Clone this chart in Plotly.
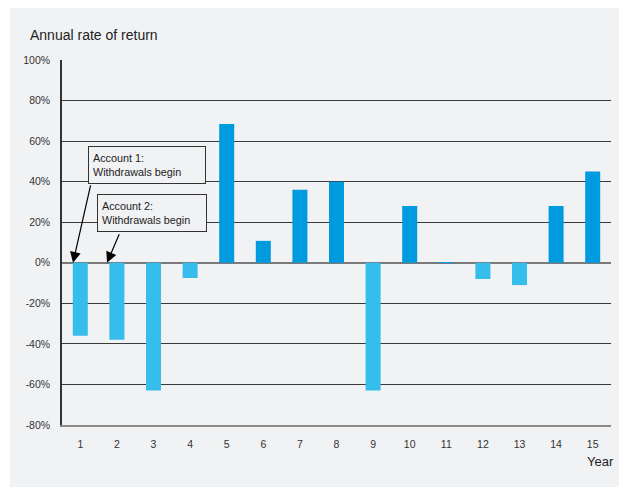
import plotly.graph_objects as go

# Data
years = list(range(1, 16))
returns = [-36, -38, -63, -7.5, 68.5, 10.8, 36, 40, -63, 28, 0.3, -8, -11, 28, 45]
y_ticks = [-80, -60, -40, -20, 0, 20, 40, 60, 80, 100]
y_labels = [f'{v}%' for v in y_ticks]

POS_BLUE = '#009ade'
NEG_BLUE = '#35bdec'
PANEL_GRAY = '#f1f2f4'
FONT = 'Liberation Sans, Arial, sans-serif'

bar_colors = [POS_BLUE if v >= 0 else NEG_BLUE for v in returns]

fig = go.Figure(go.Bar(x=years, y=returns, marker=dict(color=bar_colors, line=dict(width=0)), width=0.41))

# page body has an 8px margin, so the figure is 619x479 and starts at (8, 8)
OFF = 8
W, H = 619, 479
L, R, T, B = 62 - OFF, 16, 60 - OFF, 62
pw, ph = W - L - R, H - T - B


def px_x(page_x):
    return (page_x - OFF - L) / pw


def px_y(page_y):
    return 1 - (page_y - OFF - T) / ph


fig.update_layout(
    width=W, height=H,
    margin=dict(l=L, r=R, t=T, b=B),
    paper_bgcolor='white',
    plot_bgcolor='rgba(0,0,0,0)',
    font=dict(family=FONT, size=10.5, color='#333333'),
    showlegend=False,
    xaxis=dict(range=[0.5, 15.5], tickmode='array', tickvals=years, showgrid=False, zeroline=False,
               showline=True, linecolor='#8a8a8a', linewidth=1.5, ticks='', ticklabelstandoff=9,
               tickfont=dict(size=10.5, color='#333333')),
    yaxis=dict(range=[-80, 100], tickmode='array', tickvals=y_ticks, ticktext=y_labels,
               showgrid=True, gridcolor='#3a3a3a', gridwidth=1.3,
               zeroline=True, zerolinecolor='#7a7a7a', zerolinewidth=2,
               showline=True, linecolor='#333333', linewidth=1.5, ticks='', ticklabelstandoff=8,
               tickfont=dict(size=10.5, color='#333333')),
)

# gray panel behind everything
fig.add_shape(type='rect', xref='paper', yref='paper', layer='below',
              x0=px_x(10), x1=px_x(630), y0=px_y(490), y1=px_y(OFF),
              fillcolor=PANEL_GRAY, line=dict(width=0))

# titles
fig.add_annotation(text='Annual rate of return', xref='paper', yref='paper',
                   x=px_x(28), y=px_y(35), xanchor='left', yanchor='middle',
                   showarrow=False, font=dict(size=14, color='#222222'))
fig.add_annotation(text='Year', xref='paper', yref='paper',
                   x=px_x(616), y=px_y(461), xanchor='right', yanchor='middle',
                   showarrow=False, font=dict(size=13, color='#222222'))

# callout boxes
fig.add_annotation(text='Account 1:<br>Withdrawals begin', x=1.21, y=57.6, xanchor='left', yanchor='top',
                   align='left', showarrow=False, width=108, height=28, borderpad=4,
                   bordercolor='#333333', borderwidth=1, bgcolor=PANEL_GRAY,
                   font=dict(size=10.8, color='#222222'))
fig.add_annotation(text='Account 2:<br>Withdrawals begin', x=1.46, y=34, xanchor='left', yanchor='top',
                   align='left', showarrow=False, width=100, height=28, borderpad=4,
                   bordercolor='#333333', borderwidth=1, bgcolor=PANEL_GRAY,
                   font=dict(size=10.8, color='#222222'))

# arrows
fig.add_annotation(text='', x=0.8, y=0, ax=1.29, ay=38.9, axref='x', ayref='y',
                   showarrow=True, arrowhead=2, arrowsize=1.8, arrowwidth=1.2, arrowcolor='#000000')
fig.add_annotation(text='', x=1.73, y=0, ax=2.08, ay=14.8, axref='x', ayref='y',
                   showarrow=True, arrowhead=2, arrowsize=1.8, arrowwidth=1.2, arrowcolor='#000000')

fig.write_html('out.html')
